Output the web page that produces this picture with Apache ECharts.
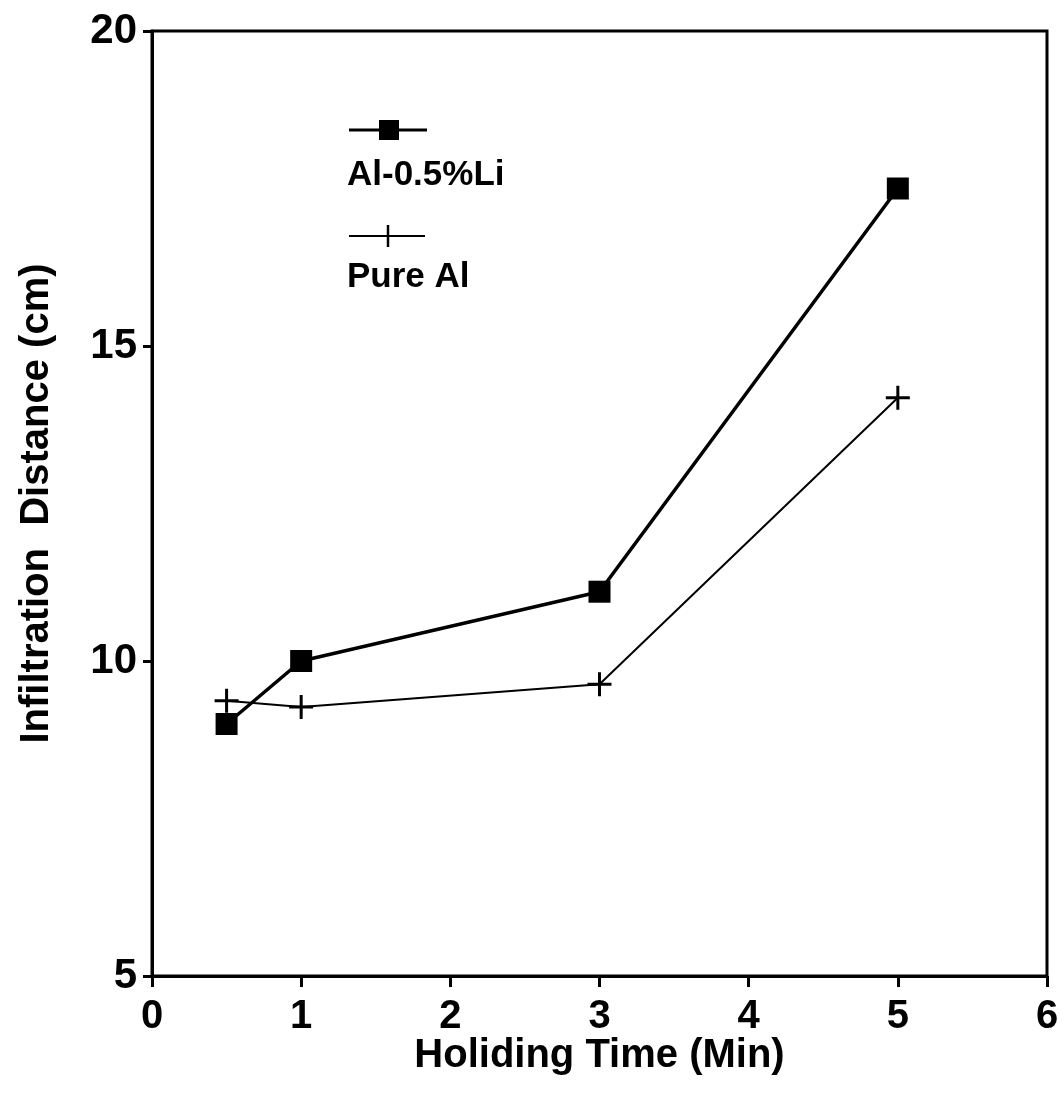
<!DOCTYPE html>
<html>
<head>
<meta charset="utf-8">
<script src="https://cdn.jsdelivr.net/npm/echarts@6/dist/echarts.min.js"></script>
<style>
  html, body { margin: 0; padding: 0; background: #fff; }
  #chart { width: 1062px; height: 1096px; }
</style>
</head>
<body>
<div id="chart"></div>
<script>
// holding time (min)
const holdTime = [0.5, 1, 3, 5]
// infiltration distance (cm)
const alLi = [9.0, 10.0, 11.1, 17.5]
const pureAl = [9.37, 9.27, 9.63, 14.18]
const xTicks = [0, 1, 2, 3, 4, 5, 6]
const yTicks = [5, 10, 15, 20]

const FONT = '"Liberation Sans", Arial, Helvetica, sans-serif'
const PLUS = 'path://M8.75,0h2.5v8.75h8.75v2.5h-8.75v8.75h-2.5v-8.75h-8.75v-2.5h8.75z'

const chart = echarts.init(document.getElementById('chart'), null, { renderer: 'canvas' })

function pairs(xs, ys) {
  return xs.map((x, i) => [x, ys[i]])
}

chart.setOption({
  backgroundColor: '#fff',
  animation: false,
  grid: {
    left: 152,
    right: 15,
    top: 31,
    bottom: 120,
    show: true,
    borderColor: '#000',
    borderWidth: 3
  },
  xAxis: {
    type: 'value',
    min: xTicks[0],
    max: xTicks[xTicks.length - 1],
    interval: 1,
    name: 'Holiding Time (Min)',
    nameLocation: 'middle',
    nameGap: 60,
    nameMoveOverlap: false,
    nameTextStyle: { fontFamily: FONT, fontSize: 40, fontWeight: 'bold', color: '#000' },
    axisLine: { lineStyle: { color: '#000', width: 3 } },
    axisTick: { inside: false, length: 11, lineStyle: { color: '#000', width: 3 } },
    axisLabel: { margin: 21, fontFamily: FONT, fontSize: 40, fontWeight: 'bold', color: '#000' },
    splitLine: { show: false }
  },
  yAxis: {
    type: 'value',
    min: yTicks[0],
    max: yTicks[yTicks.length - 1],
    interval: 5,
    name: 'Infiltration  Distance (cm)',
    nameLocation: 'middle',
    nameGap: 95,
    nameTextStyle: { fontFamily: FONT, fontSize: 40, fontWeight: 'bold', color: '#000' },
    axisLine: { lineStyle: { color: '#000', width: 3 } },
    axisTick: { inside: false, length: 9, lineStyle: { color: '#000', width: 3 } },
    axisLabel: { margin: 15, fontFamily: FONT, fontSize: 42, fontWeight: 'bold', color: '#000' },
    splitLine: { show: false }
  },
  series: [
    {
      name: 'Al-0.5%Li',
      type: 'line',
      data: pairs(holdTime, alLi),
      symbol: 'rect',
      symbolSize: 22,
      itemStyle: { color: '#000' },
      lineStyle: { color: '#000', width: 3.5 },
      z: 3
    },
    {
      name: 'Pure Al',
      type: 'line',
      data: pairs(holdTime, pureAl),
      symbol: PLUS,
      symbolSize: 24,
      itemStyle: { color: '#000' },
      lineStyle: { color: '#000', width: 2 },
      z: 2
    }
  ],
  graphic: [
    // legend: Al-0.5%Li
    { type: 'line', shape: { x1: 349, y1: 130, x2: 427, y2: 130 }, style: { stroke: '#000', lineWidth: 3 } },
    { type: 'rect', shape: { x: 379, y: 120, width: 20, height: 20 }, style: { fill: '#000' } },
    { type: 'text', left: 347, top: 158, style: { text: 'Al-0.5%Li', font: 'bold 35px ' + FONT, fill: '#000' } },
    // legend: Pure Al
    { type: 'line', shape: { x1: 349, y1: 236, x2: 425, y2: 236 }, style: { stroke: '#000', lineWidth: 2 } },
    { type: 'line', shape: { x1: 388, y1: 225, x2: 388, y2: 247 }, style: { stroke: '#000', lineWidth: 2.5 } },
    { type: 'text', left: 347, top: 260, style: { text: 'Pure Al', font: 'bold 35px ' + FONT, fill: '#000' } }
  ]
})
</script>
</body>
</html>
